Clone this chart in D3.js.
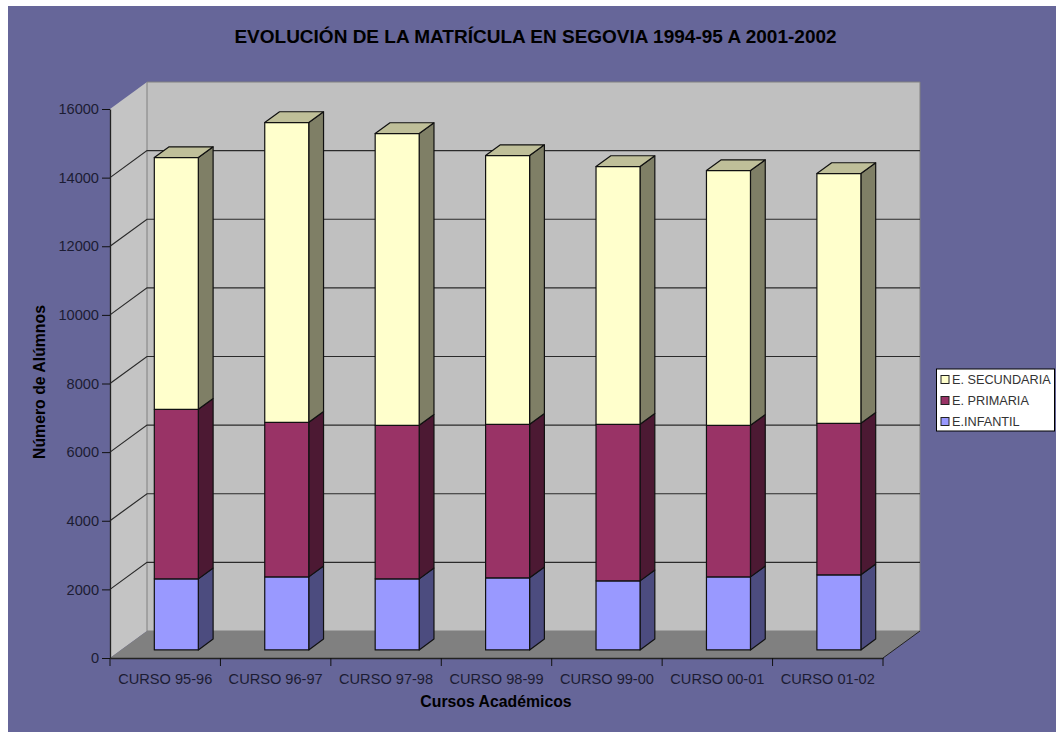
<!DOCTYPE html>
<html>
<head>
<meta charset="utf-8">
<script src="https://cdn.jsdelivr.net/npm/d3@7"></script>
<style>
  html, body { margin: 0; padding: 0; background: #fff; }
  svg { display: block; }
  text { font-family: "Liberation Sans", Arial, sans-serif; }
</style>
</head>
<body>
<svg id="chart" width="1056" height="732"></svg>
<script>
const cursos = ["CURSO 95-96", "CURSO 96-97", "CURSO 97-98", "CURSO 98-99", "CURSO 99-00", "CURSO 00-01", "CURSO 01-02"]
const infantil = [2070, 2128, 2070, 2100, 2012, 2128, 2187]
const primaria = [4941, 4504, 4475, 4474, 4562, 4417, 4416]
const secundaria = [7337, 8737, 8503, 7832, 7512, 7424, 7279]
const serieNames = ["E.INFANTIL", "E. PRIMARIA", "E. SECUNDARIA"]
const yTicks = [0, 2000, 4000, 6000, 8000, 10000, 12000, 14000, 16000]

const title = "EVOLUCIÓN DE LA MATRÍCULA EN SEGOVIA 1994-95 A 2001-2002"
const front = ["#9999ff", "#993366", "#ffffcc"]
const side = ["#4c4c7f", "#4c1933", "#7f7f66"]
const top_ = ["#7f7fcc", "#7f2a55", "#bfbf99"]

const svg = d3.select("#chart")

// chart background, the page stays white on the top and left edge
svg.append("rect").attr("x", 8).attr("y", 6).attr("width", 1048).attr("height", 726).attr("fill", "#666699")

const x = d3.scaleBand().domain(cursos).range([110, 883])
const y = d3.scaleLinear().domain([0, 16000]).range([658, 109])

// depth of the 3d box, d goes from 0 (front) to 1 (back wall)
const DX = 37, DY = -27
const px = (v, d) => v + d * DX
const py = (v, d) => v + d * DY
const pts = a => a.map(p => p.join(",")).join(" ")

const x0 = x.range()[0], x1 = x.range()[1]
const y0 = y(0), yMax = y(16000)

const walls = svg.append("g")
walls.append("polygon")
  .attr("points", pts([[x0, yMax], [px(x0, 1), py(yMax, 1)], [px(x0, 1), py(y0, 1)], [x0, y0]]))
  .attr("fill", "#c4c4c4")
walls.append("polygon")
  .attr("points", pts([[px(x0, 1), py(yMax, 1)], [px(x1, 1), py(yMax, 1)], [px(x1, 1), py(y0, 1)], [px(x0, 1), py(y0, 1)]]))
  .attr("fill", "#c0c0c0")
  .attr("stroke", "#808080")
walls.append("polygon")
  .attr("points", pts([[x0, y0], [px(x0, 1), py(y0, 1)], [px(x1, 1), py(y0, 1)], [x1, y0]]))
  .attr("fill", "#808080")
walls.append("line")
  .attr("x1", x1).attr("y1", y0).attr("x2", px(x1, 1)).attr("y2", py(y0, 1))
  .attr("stroke", "#222")

// gridlines run over the side wall and then along the back wall
svg.append("g").selectAll("polyline")
  .data(yTicks.filter(t => t > 0 && t < 16000))
  .join("polyline")
  .attr("fill", "none")
  .attr("stroke", "#2a2a2a")
  .attr("stroke-width", 1.2)
  .attr("points", t => pts([[x0, y(t)], [px(x0, 1), py(y(t), 1)], [px(x1, 1), py(y(t), 1)]]))

const stacked = cursos.map((c, i) => {
  const vals = [infantil[i], primaria[i], secundaria[i]]
  let sum = 0
  return vals.map((v, s) => {
    const seg = { curso: c, s, from: sum, to: sum + v }
    sum += v
    return seg
  })
})

const barW = 44
const D0 = 0.3, D1 = 0.7

const bars = svg.append("g").selectAll("g").data(stacked).join("g")
const segs = bars.selectAll("g").data(d => d).join("g")
  .attr("stroke", "#111")
  .attr("stroke-width", 1.2)
  .attr("stroke-linejoin", "round")

const left = d => x(d.curso) + x.bandwidth() / 2 - barW / 2
const right = d => left(d) + barW

// side face
segs.append("polygon")
  .attr("fill", d => side[d.s])
  .attr("points", d => pts([
    [px(right(d), D0), py(y(d.from), D0)],
    [px(right(d), D1), py(y(d.from), D1)],
    [px(right(d), D1), py(y(d.to), D1)],
    [px(right(d), D0), py(y(d.to), D0)]
  ]))
// top face, only the last serie shows it
segs.filter(d => d.s === 2).append("polygon")
  .attr("fill", d => top_[d.s])
  .attr("points", d => pts([
    [px(left(d), D0), py(y(d.to), D0)],
    [px(left(d), D1), py(y(d.to), D1)],
    [px(right(d), D1), py(y(d.to), D1)],
    [px(right(d), D0), py(y(d.to), D0)]
  ]))
// front face
segs.append("polygon")
  .attr("fill", d => front[d.s])
  .attr("points", d => pts([
    [px(left(d), D0), py(y(d.from), D0)],
    [px(right(d), D0), py(y(d.from), D0)],
    [px(right(d), D0), py(y(d.to), D0)],
    [px(left(d), D0), py(y(d.to), D0)]
  ]))

// axes
const yAxis = svg.append("g")
  .attr("transform", `translate(${x0},0)`)
  .call(d3.axisLeft(y).tickValues(yTicks).tickFormat(d3.format("d")).tickSize(8).tickSizeOuter(0).tickPadding(3))
const xAxis = svg.append("g")
  .attr("transform", `translate(0,${y0})`)
  .call(d3.axisBottom(x).tickSize(0).tickPadding(16))

// the category ticks sit between the bands, not on the band centres
const edges = cursos.map(c => x(c)).concat([x1])
xAxis.selectAll(".edge").data(edges).join("line")
  .attr("class", "edge")
  .attr("x1", d => d).attr("x2", d => d)
  .attr("y1", 0).attr("y2", 8)
  .attr("stroke", "#111")

for (const ax of [yAxis, xAxis]) {
  ax.attr("font-family", null).attr("font-size", null)
  ax.selectAll("text").attr("font-size", 14.6).attr("fill", "#1c1c33")
  ax.selectAll(".tick line").attr("stroke", "#111")
  ax.select(".domain").attr("stroke", "#222").attr("stroke-width", 1.3)
}
xAxis.selectAll(".tick line").remove()

// titles
svg.append("text").attr("x", 535.5).attr("y", 43)
  .attr("text-anchor", "middle").attr("font-weight", "bold").attr("font-size", 19).attr("fill", "#000")
  .text(title)
svg.append("text").attr("x", 496).attr("y", 707)
  .attr("text-anchor", "middle").attr("font-weight", "bold").attr("font-size", 15.8).attr("fill", "#000")
  .text("Cursos Académicos")
svg.append("text").attr("transform", "translate(45,382) rotate(-90)")
  .attr("text-anchor", "middle").attr("font-weight", "bold").attr("font-size", 15.8).attr("fill", "#000")
  .text("Número de Alúmnos")

// legend, top row is the last serie
const legend = svg.append("g").attr("transform", "translate(936.5,369)")
legend.append("rect").attr("width", 118).attr("height", 62)
  .attr("fill", "#fff").attr("stroke", "#000")
const legendY = d3.scalePoint().domain(d3.range(3)).range([10, 52])
const item = legend.selectAll("g").data([2, 1, 0]).join("g")
  .attr("transform", (s, i) => `translate(0,${legendY(i)})`)
item.append("rect").attr("x", 4.5).attr("y", -3.5).attr("width", 8).attr("height", 8)
  .attr("fill", s => front[s]).attr("stroke", "#222")
item.append("text").attr("x", 15.5).attr("y", 5)
  .attr("font-size", 12.7).attr("fill", "#333")
  .text(s => serieNames[s])
</script>
</body>
</html>
